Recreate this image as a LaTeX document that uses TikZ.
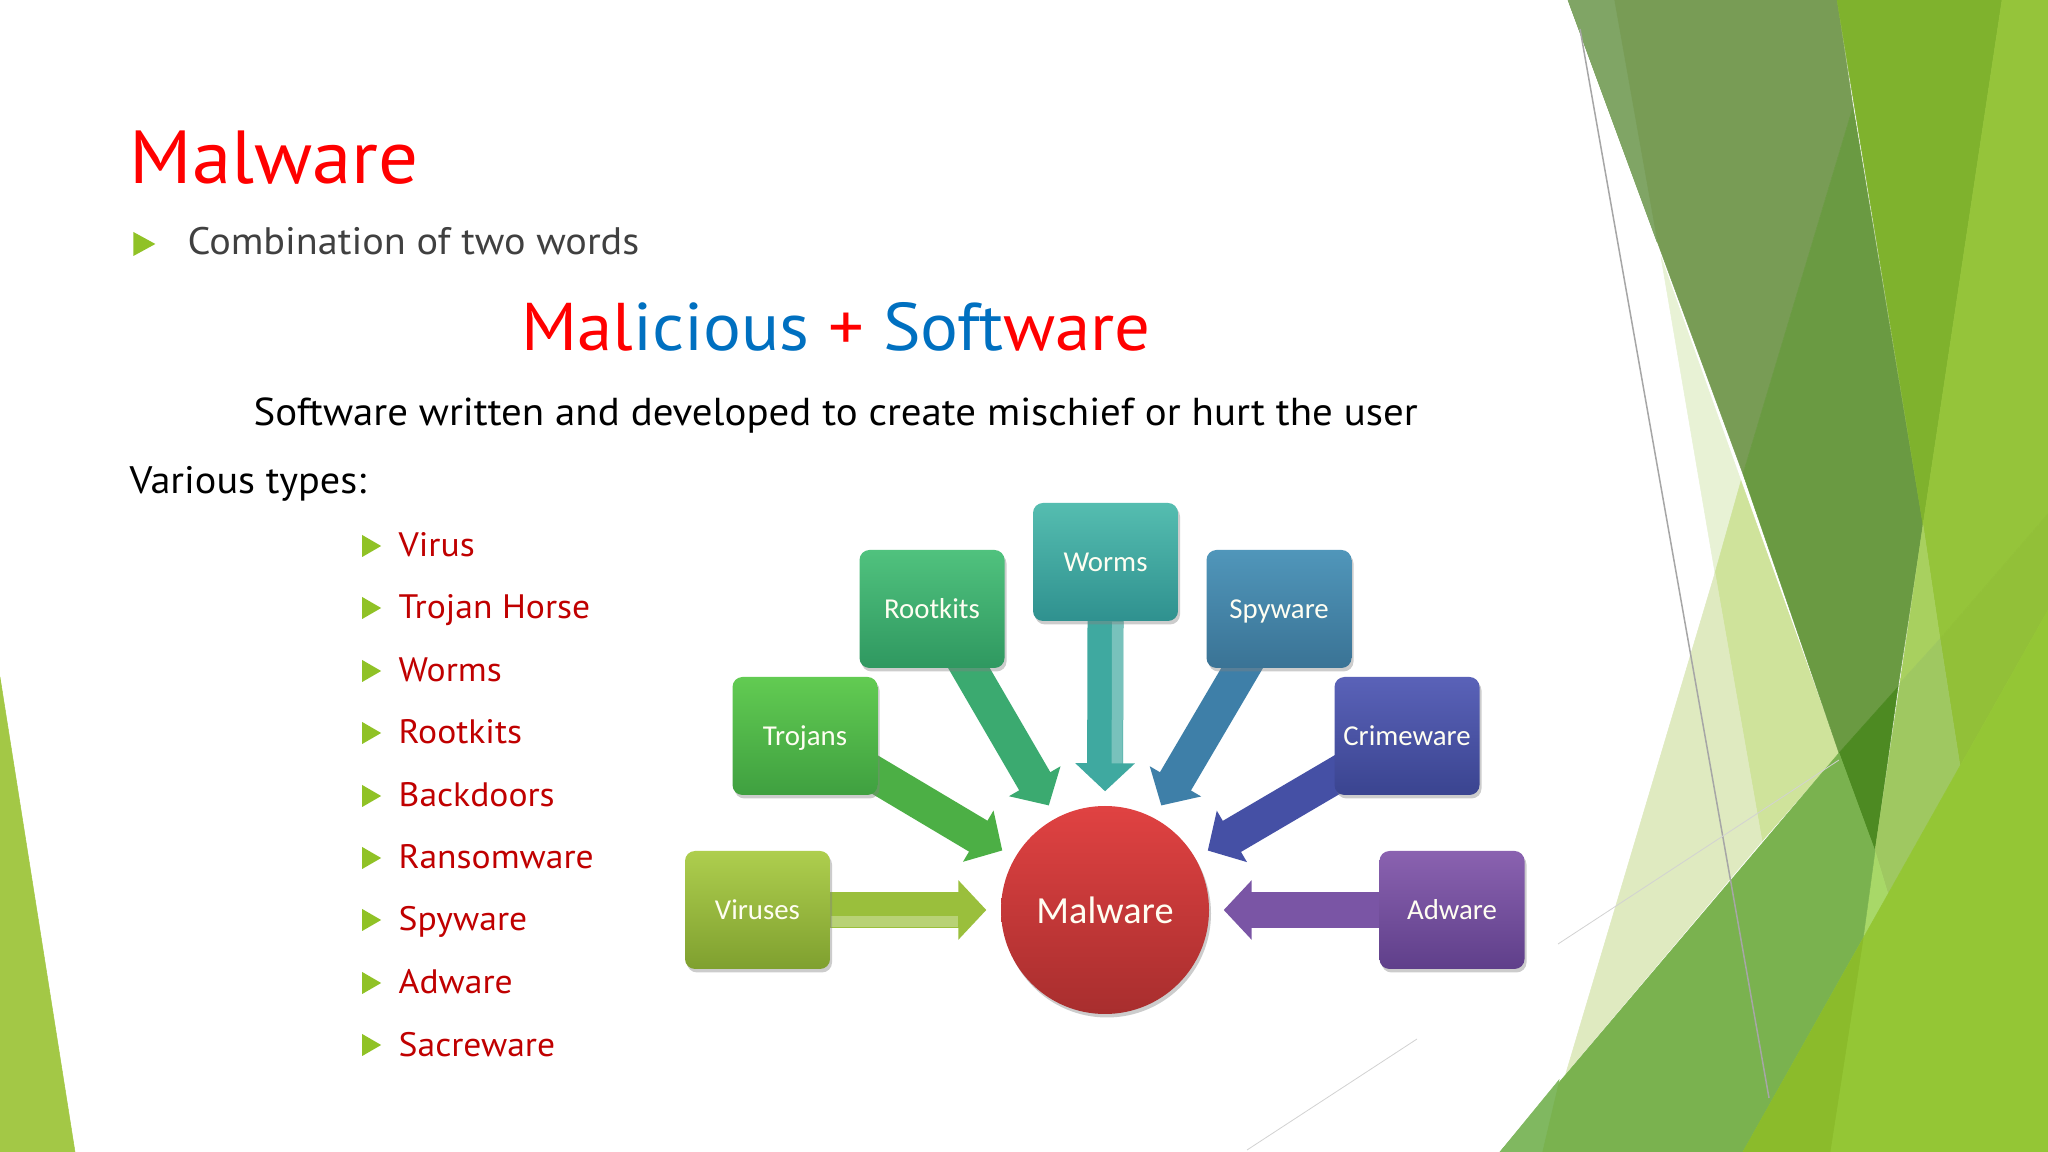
\documentclass[tikz,border=0pt]{standalone}
\usepackage{fontspec}
\setmainfont[FakeStretch=1.05]{PT Sans}
\newfontfamily\boxfont{Carlito}
\usetikzlibrary{arrows.meta,shadows,shapes.geometric}
\pgfdeclarelayer{slide}
\pgfdeclarelayer{shafts}
\pgfsetlayers{slide,shafts,main}
\definecolor{slidered}{HTML}{FF0000}
\definecolor{itemred}{HTML}{C00000}
\definecolor{wordblue}{HTML}{0070C0}
\definecolor{bulletgreen}{HTML}{90C226}
\definecolor{leafleft}{HTML}{A3C846}
\definecolor{palea}{HTML}{E8F2D5}
\definecolor{paleb}{HTML}{CFE39B}
\definecolor{palec}{HTML}{DFEAC0}
\definecolor{greya}{HTML}{789C55}
\definecolor{greyb}{HTML}{80A565}
\definecolor{darka}{HTML}{6A9A42}
\definecolor{darkb}{HTML}{4D8A22}
\definecolor{banda}{HTML}{7FB22D}
\definecolor{bandb}{HTML}{95C43A}
\definecolor{bandc}{HTML}{92C038}
\definecolor{lighta}{HTML}{A8D05F}
\definecolor{lightb}{HTML}{9FC861}
\definecolor{lightc}{HTML}{A8D868}
\definecolor{mida}{HTML}{7AB24F}
\definecolor{midb}{HTML}{80B860}
\definecolor{bottoma}{HTML}{94C635}
\definecolor{bottomb}{HTML}{8BBB2B}
% box tops, box bottoms, arrows
\definecolor{virustop}{HTML}{AECE4E}
\definecolor{virusbot}{HTML}{7FA02F}
\definecolor{virusarrow}{HTML}{9ABF3C}
\definecolor{trojantop}{HTML}{62CB52}
\definecolor{trojanbot}{HTML}{3FA040}
\definecolor{trojanarrow}{HTML}{4CAF45}
\definecolor{rootkittop}{HTML}{50C27E}
\definecolor{rootkitbot}{HTML}{2F9860}
\definecolor{rootkitarrow}{HTML}{3BAA70}
\definecolor{wormtop}{HTML}{55BDB0}
\definecolor{wormbot}{HTML}{2F918F}
\definecolor{wormarrow}{HTML}{3FA9A0}
\definecolor{spytop}{HTML}{5096BA}
\definecolor{spybot}{HTML}{3A7395}
\definecolor{spyarrow}{HTML}{3E7FA8}
\definecolor{crimetop}{HTML}{5A62B8}
\definecolor{crimebot}{HTML}{3A4490}
\definecolor{crimearrow}{HTML}{4550A5}
\definecolor{adtop}{HTML}{8A62B0}
\definecolor{adbot}{HTML}{5F3F8A}
\definecolor{adarrow}{HTML}{7A55A5}
\definecolor{maltop}{HTML}{E04242}
\definecolor{malbot}{HTML}{A82E2E}
\tikzset{facet/.style={fill=#1,draw=#1,line width=0.05mm},
  sheen/.style={postaction={draw=white,draw opacity=0.3,line width=1.1mm,arrows=-,shorten >=4.2mm,shorten <=0mm,transform canvas={shift={#1}}}},
  typebox/.style n args={2}{rectangle,rounded corners=1mm,minimum width=14.5mm,minimum height=11.8mm,inner sep=0pt,
  top color=#1,bottom color=#2,text=white!95!yellow,font=\boxfont\fontsize{8.2}{9}\selectfont,text height=5.2pt,text depth=0pt,
  drop shadow={shadow xshift=0.2mm,shadow yshift=-0.35mm,opacity=0.4}}}
\begin{document}
\begin{tikzpicture}[x=0.1mm,y=-0.1mm]
        \tikzstyle{textline}=[anchor=base west,inner sep=0pt]
        \tikzstyle{bullet}=[isosceles triangle,isosceles triangle stretches,fill=bulletgreen,inner sep=0pt,minimum width=2.2mm,minimum height=1.9mm]
        \tikzstyle{item}=[textline,text=itemred,font=\fontsize{9.65}{11}\selectfont]
        \tikzstyle{typearrow}=[line width=3.6mm,-{Triangle[length=2.8mm,width=5.8mm]},shorten >=1.4mm,shorten <=-2mm]
        \useasboundingbox (0,0) rectangle (2048,1152);
        \begin{pgfonlayer}{slide}
        \fill[white] (0,0) rectangle (2048,1152);
        % slide corners
        \path[facet=leafleft] (0,677) -- (75,1152) -- (0,1152) -- cycle;
        \path[facet=palea] (1661,257) -- (1741,481) -- (1715,573) -- cycle;
        \path[facet=paleb] (1741,481) -- (1839,753) -- (1762,841) -- (1715,573) -- cycle;
        \path[facet=palec] (1715,573) -- (1762,841) -- (1566,1073) -- cycle;
        \path[facet=greya] (1568,0) -- (1837,0) -- (1853,107) -- (1743,474) -- cycle;
        \path[facet=greyb] (1568,0) -- (1614,0) -- (1657,242) -- cycle;
        \path[facet=darka] (1853,107) -- (1923,525) -- (1898,687) -- (1839,753) -- (1743,474) -- cycle;
        \path[facet=darkb] (1839,753) -- (1898,687) -- (1875,851) -- cycle;
        \path[facet=banda] (1837,0) -- (2002,0) -- (1923,525) -- cycle;
        \path[facet=bandb] (2002,0) -- (2048,0) -- (2048,514) -- (1940,639) -- (1923,525) -- cycle;
        \path[facet=bandc] (1940,639) -- (2048,514) -- (2048,610) -- (1960,766) -- cycle;
        \path[facet=lighta] (1923,525) -- (1940,639) -- (1900,683) -- cycle;
        \path[facet=lightb] (1900,683) -- (1940,639) -- (1960,766) -- (1888,894) -- (1875,851) -- cycle;
        \path[facet=lightc] (1875,851) -- (1888,894) -- (1863,939) -- cycle;
        \path[facet=mida] (1839,753) -- (1875,851) -- (1863,939) -- (1743,1152) -- (1500,1152) -- cycle;
        \path[facet=midb] (1559,1080) -- (1542,1152) -- (1500,1152) -- cycle;
        \path[facet=bottoma] (1960,766) -- (2048,610) -- (2048,1152) -- (1743,1152) -- cycle;
        \path[facet=bottomb] (1863,939) -- (1830,1152) -- (1743,1152) -- cycle;
        \draw[gray!70,line width=0.15mm] (1580,29) -- (1769,1098);
        \draw[gray!35,line width=0.08mm] (1558,944) -- (1839,760);
        \draw[gray!35,line width=0.08mm] (1247,1150) -- (1417,1039);
        \end{pgfonlayer}
        % slide text
        \node[textline,text=slidered,font=\fontsize{21.4}{24}\selectfont] (title) at (129,184) {Malware};
        \node[bullet,minimum width=2.4mm,minimum height=2.2mm] (subbullet) at (140.5,244) {};
        \node[textline,text=black!75,font=\fontsize{10.9}{12}\selectfont] (subline) at (187,255) {Combination of two words};
        \node[textline,text=slidered,font=\fontsize{19.2}{22}\selectfont] (headline) at (521,351) {Mal\textcolor{wordblue}{icious} + \textcolor{wordblue}{Soft}ware};
        \node[textline,text=black,font=\fontsize{11.08}{12}\selectfont] (meaning) at (253,426) {Software written and developed to create mischief or hurt the user};
        \node[textline,text=black,font=\fontsize{10.9}{12}\selectfont] (various) at (129,494) {Various types:};
        \node[bullet] (b1) at (368.5,546) {};
        \node[item] (i1) at (398,557) {Virus};
        \node[bullet] (b2) at (368.5,608) {};
        \node[item] (i2) at (398,619) {Trojan Horse};
        \node[bullet] (b3) at (368.5,671) {};
        \node[item] (i3) at (398,682) {Worms};
        \node[bullet] (b4) at (368.5,733) {};
        \node[item] (i4) at (398,744) {Rootkits};
        \node[bullet] (b5) at (368.5,796) {};
        \node[item] (i5) at (398,807) {Backdoors};
        \node[bullet] (b6) at (368.5,858) {};
        \node[item] (i6) at (398,869) {Ransomware};
        \node[bullet] (b7) at (368.5,920) {};
        \node[item] (i7) at (398,931) {Spyware};
        \node[bullet] (b8) at (368.5,983) {};
        \node[item] (i8) at (398,994) {Adware};
        \node[bullet] (b9) at (368.5,1045) {};
        \node[item] (i9) at (398,1056) {Sacreware};
        % malware types
        \node[circle,minimum size=20.8mm,inner sep=0pt,top color=maltop,bottom color=malbot,text=white!95!yellow,font=\boxfont\fontsize{10.9}{12}\selectfont,drop shadow={shadow xshift=0.2mm,shadow yshift=-0.35mm,opacity=0.4}] (malware) at (1105,910) {Malware};
        \node[typebox={virustop}{virusbot}] (viruses) at (757.5,910) {Viruses};
        \node[typebox={trojantop}{trojanbot}] (trojans) at (805,736) {Trojans};
        \node[typebox={rootkittop}{rootkitbot}] (rootkits) at (932,609) {Rootkits};
        \node[typebox={wormtop}{wormbot}] (worms) at (1105.5,562) {Worms};
        \node[typebox={spytop}{spybot}] (spyware) at (1279,609) {Spyware};
        \node[typebox={crimetop}{crimebot}] (crimeware) at (1407,736) {Crimeware};
        \node[typebox={adtop}{adbot}] (adware) at (1452,910) {Adware};
        \begin{pgfonlayer}{shafts}
        \draw[typearrow,draw=virusarrow,sheen={(0,-1.2mm)}] (viruses.east) -- (malware.west);
        \draw[typearrow,draw=trojanarrow] (trojans.-29) -- (malware.150);
        \draw[typearrow,draw=rootkitarrow] (rootkits.-58) -- (malware.118);
        \draw[typearrow,draw=wormarrow,sheen={(1.2mm,0)}] (worms.south) -- (malware.north);
        \draw[typearrow,draw=spyarrow] (spyware.-122) -- (malware.62);
        \draw[typearrow,draw=crimearrow] (crimeware.-151) -- (malware.30);
        \draw[typearrow,draw=adarrow] (adware.west) -- (malware.east);
        \end{pgfonlayer}
    \end{tikzpicture}
\end{document}
